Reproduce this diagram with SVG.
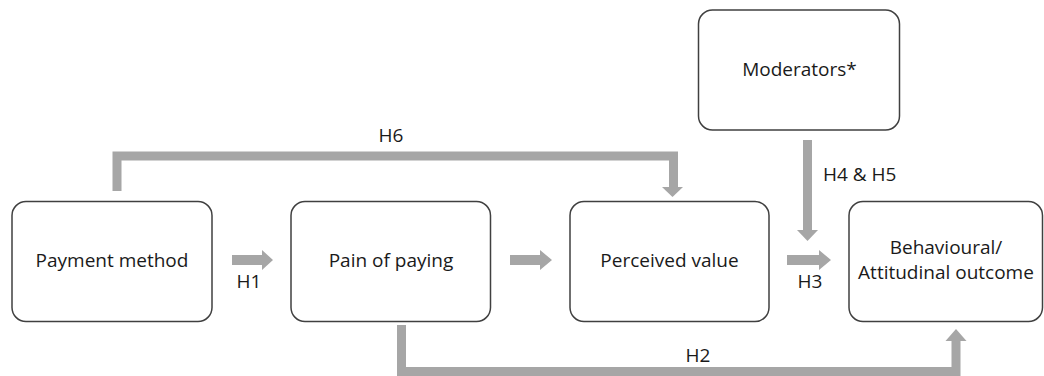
<svg xmlns="http://www.w3.org/2000/svg" width="1044" height="376" viewBox="0 0 1044 376">
<style>
  .box { fill: #ffffff; stroke: #404040; stroke-width: 1.5; }
  .t { font-family: "Open Sans", "Liberation Sans", sans-serif; font-size: 19px; fill: #1a1a1a; text-anchor: middle; }
  .line { fill: none; stroke: #a6a6a6; stroke-width: 9; stroke-linejoin: miter; stroke-linecap: butt; }
  .ah { fill: #a6a6a6; stroke: none; }
</style>
<rect width="1044" height="376" fill="#ffffff"/>
<g id="connectors">
  <!-- H1 -->
  <polygon class="ah" points="232,255 262,255 262,250 273,260 262,270 262,265 232,265"/>
  <!-- Pain -> Perceived -->
  <polygon class="ah" points="510,255 540,255 540,250 552,260 540,270 540,265 510,265"/>
  <!-- H3 -->
  <polygon class="ah" points="787,255 819,255 819,250 831,260 819,270 819,265 787,265"/>
  <!-- H6 -->
  <polyline class="line" points="117,191 117,156 673.5,156 673.5,187"/>
  <polygon class="ah" points="662,187 683,187 672.5,197"/>
  <!-- H2 -->
  <polyline class="line" points="401.5,325 401.5,371.5 956,371.5 956,341"/>
  <polygon class="ah" points="945.5,341 966.5,341 956,329"/>
  <!-- H4 & H5 -->
  <line class="line" x1="807.5" y1="140" x2="807.5" y2="230"/>
  <polygon class="ah" points="797,230 818,230 807.5,241"/>
  <text class="t" x="249" y="288">H1</text>
  <text class="t" x="391" y="142">H6</text>
  <text class="t" x="698" y="362">H2</text>
  <text class="t" x="810" y="288">H3</text>
  <text class="t" x="823" y="181" style="text-anchor:start">H4 &amp; H5</text>
</g>
<g id="payment-method">
  <rect class="box" x="12" y="201.5" width="200" height="120" rx="14"/>
  <text class="t" x="112" y="267">Payment method</text>
</g>
<g id="pain-of-paying">
  <rect class="box" x="291" y="201.5" width="199.5" height="120" rx="14"/>
  <text class="t" x="391" y="267">Pain of paying</text>
</g>
<g id="perceived-value">
  <rect class="box" x="570" y="201.5" width="199" height="120" rx="14"/>
  <text class="t" x="669.5" y="267">Perceived value</text>
</g>
<g id="moderators">
  <rect class="box" x="698.5" y="10" width="201" height="120" rx="14"/>
  <text class="t" x="799.5" y="76">Moderators*</text>
</g>
<g id="outcome">
  <rect class="box" x="849" y="201.5" width="193.5" height="120" rx="14"/>
  <text class="t" x="946" y="254">Behavioural/</text>
  <text class="t" x="946" y="279">Attitudinal outcome</text>
</g>
</svg>
